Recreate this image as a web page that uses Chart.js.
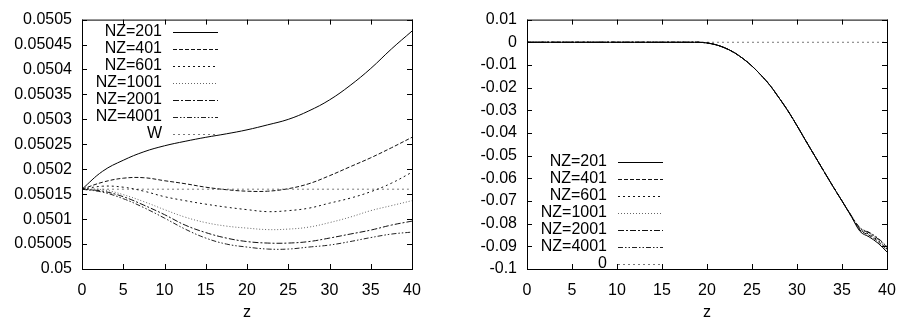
<!DOCTYPE html>
<html>
<head>
<meta charset="utf-8">
<script src="https://cdn.jsdelivr.net/npm/chart.js@4/dist/chart.umd.min.js"></script>
<style>
  html, body { margin: 0; padding: 0; background: #fff; }
  #wrap { position: relative; width: 901px; height: 322px; }
  .panel { position: absolute; top: 0; height: 322px; }
  #p1 { left: 0; width: 450px; }
  #p2 { left: 450px; width: 451px; }
</style>
</head>
<body>
<div id="wrap">
  <div class="panel" id="p1"><canvas id="left"></canvas></div>
  <div class="panel" id="p2"><canvas id="right"></canvas></div>
</div>
<script>
// left panel
var zLeft = [0, 2.5, 5, 7.5, 10, 12.5, 15, 17.5, 20, 22.5, 25, 27.5, 30, 32.5, 35, 37.5, 40];
var nz201L = [0.05016, 0.050196, 0.050218, 0.050235, 0.050247, 0.050256, 0.050264, 0.050271, 0.050279, 0.050289, 0.0503, 0.050317, 0.050339, 0.050368, 0.050402, 0.050441, 0.050477];
var nz401L = [0.05016, 0.050174, 0.050182, 0.050183, 0.050177, 0.050171, 0.050164, 0.050159, 0.050156, 0.050156, 0.050161, 0.050171, 0.050187, 0.050205, 0.050223, 0.050243, 0.050264];
var nz601L = [0.05016, 0.050166, 0.050164, 0.050156, 0.050145, 0.050137, 0.05013, 0.050124, 0.050119, 0.050115, 0.050117, 0.050122, 0.050132, 0.050142, 0.050155, 0.050172, 0.050194];
var nz1001L = [0.05016, 0.050159, 0.050149, 0.050135, 0.050119, 0.050104, 0.050093, 0.050086, 0.050082, 0.050079, 0.05008, 0.050084, 0.050093, 0.050104, 0.050117, 0.050127, 0.050137];
var nz2001L = [0.05016, 0.050156, 0.050145, 0.050128, 0.050109, 0.050088, 0.050073, 0.050062, 0.050055, 0.050052, 0.050052, 0.050055, 0.050062, 0.05007, 0.050078, 0.050088, 0.050096];
var nz4001L = [0.05016, 0.050154, 0.050141, 0.050123, 0.050102, 0.05008, 0.050062, 0.05005, 0.050044, 0.05004, 0.05004, 0.050044, 0.050048, 0.050055, 0.050063, 0.05007, 0.050074];
var wLine = [0.05016, 0.05016, 0.05016, 0.05016, 0.05016, 0.05016, 0.05016, 0.05016, 0.05016, 0.05016, 0.05016, 0.05016, 0.05016, 0.05016, 0.05016, 0.05016, 0.05016];

// right panel
var zRight = [0, 5, 10, 15, 18, 19, 20, 21, 22, 23, 24, 25, 26, 27, 28, 29, 30, 31, 32, 33, 34, 35, 36, 37, 38, 39, 40];
var nz201R = [0, 0, 0, 0, 0, 0, -0.0003, -0.0011, -0.0025, -0.0045, -0.0072, -0.0105, -0.0145, -0.019, -0.0245, -0.0303, -0.0368, -0.0436, -0.0503, -0.057, -0.0636, -0.07, -0.0766, -0.0834, -0.0858, -0.0886, -0.0925];
var nz401R = [0, 0, 0, 0, 0, 0, -0.0003, -0.0011, -0.0025, -0.0045, -0.0072, -0.0105, -0.0145, -0.019, -0.0245, -0.0303, -0.0368, -0.0436, -0.0503, -0.057, -0.0636, -0.07, -0.0765, -0.0828, -0.0851, -0.0879, -0.0917];
var nz601R = [0, 0, 0, 0, 0, 0, -0.0003, -0.0011, -0.0025, -0.0045, -0.0072, -0.0105, -0.0145, -0.019, -0.0245, -0.0303, -0.0368, -0.0436, -0.0503, -0.057, -0.0636, -0.07, -0.0764, -0.0825, -0.0847, -0.0874, -0.0912];
var nz1001R = [0, 0, 0, 0, 0, 0, -0.0003, -0.0011, -0.0025, -0.0045, -0.0072, -0.0105, -0.0145, -0.019, -0.0245, -0.0303, -0.0368, -0.0436, -0.0503, -0.057, -0.0636, -0.07, -0.0763, -0.0822, -0.0843, -0.087, -0.0908];
var nz2001R = [0, 0, 0, 0, 0, 0, -0.0003, -0.0011, -0.0025, -0.0045, -0.0072, -0.0105, -0.0145, -0.019, -0.0245, -0.0303, -0.0368, -0.0436, -0.0503, -0.057, -0.0636, -0.07, -0.0763, -0.082, -0.084, -0.0867, -0.0904];
var nz4001R = [0, 0, 0, 0, 0, 0, -0.0003, -0.0011, -0.0025, -0.0045, -0.0072, -0.0105, -0.0145, -0.019, -0.0245, -0.0303, -0.0368, -0.0436, -0.0503, -0.057, -0.0636, -0.07, -0.0762, -0.0818, -0.0838, -0.0864, -0.0901];
var zeroLine = [0, 0, 0, 0, 0, 0, 0, 0, 0, 0, 0, 0, 0, 0, 0, 0, 0, 0, 0, 0, 0, 0, 0, 0, 0, 0, 0];

var FONT = { family: '"Liberation Sans", Arial, sans-serif', size: 16 };

var styles = [
  { dash: [], color: '#000' },
  { dash: [4, 2], color: '#111' },
  { dash: [2, 3], color: '#111' },
  { dash: [1, 2], color: '#666' },
  { dash: [6, 2, 2, 2], color: '#111' },
  { dash: [5, 2, 1.5, 2, 1.5, 2], color: '#222' },
  { dash: [2, 3], color: '#777' }
];

function pairs(xs, ys) {
  return xs.map(function (x, i) { return { x: x, y: ys[i] }; });
}

function makeSets(xs, series, labels, monotone) {
  return series.map(function (ys, i) {
    var ds = {
      label: labels[i],
      data: pairs(xs, ys),
      borderColor: styles[i].color,
      borderDash: styles[i].dash,
      borderWidth: 1,
      pointRadius: 0,
      fill: false
    };
    if (monotone) ds.cubicInterpolationMode = 'monotone';
    else ds.tension = 0.4;
    return ds;
  });
}

// gnuplot-like frame with inward ticks on all sides, plus the key
var framePlugin = {
  id: 'frame',
  afterDatasetsDraw: function (chart) {
    var ctx = chart.ctx, a = chart.chartArea;
    var xs = chart.scales.x, ys = chart.scales.y, len = 5;
    ctx.save();
    ctx.strokeStyle = '#000';
    ctx.lineWidth = 1;
    ctx.setLineDash([]);
    ctx.strokeRect(a.left + 0.5, a.top + 0.5, a.right - a.left, a.bottom - a.top);
    ctx.beginPath();
    xs.ticks.forEach(function (t) {
      var px = Math.round(xs.getPixelForValue(t.value)) + 0.5;
      ctx.moveTo(px, a.bottom); ctx.lineTo(px, a.bottom - len);
      ctx.moveTo(px, a.top); ctx.lineTo(px, a.top + len);
    });
    ys.ticks.forEach(function (t) {
      var py = Math.round(ys.getPixelForValue(t.value)) + 0.5;
      ctx.moveTo(a.left, py); ctx.lineTo(a.left + len, py);
      ctx.moveTo(a.right, py); ctx.lineTo(a.right - len, py);
    });
    ctx.stroke();

    var top = chart.options.keyTop;
    ctx.font = FONT.size + 'px ' + FONT.family;
    ctx.fillStyle = '#000';
    ctx.textAlign = 'right';
    ctx.textBaseline = 'middle';
    chart.data.datasets.forEach(function (ds, i) {
      var y = a.top + top + i * 17;
      ctx.fillText(ds.label, a.left + 80, y);
      ctx.beginPath();
      ctx.strokeStyle = ds.borderColor;
      ctx.setLineDash(ds.borderDash);
      ctx.moveTo(a.left + 91, Math.round(y) + 0.5);
      ctx.lineTo(a.left + 136, Math.round(y) + 0.5);
      ctx.stroke();
    });
    ctx.restore();
  }
};

function makeChart(id, xs, series, labels, yMin, yMax, yStep, yWidth, padRight, keyTop, monotone) {
  return new Chart(document.getElementById(id), {
    type: 'line',
    data: { datasets: makeSets(xs, series, labels, monotone) },
    options: {
      responsive: true,
      maintainAspectRatio: false,
      animation: false,
      keyTop: keyTop,
      layout: { padding: { top: 13, right: padRight, left: 0, bottom: 0 } },
      plugins: { legend: { display: false }, tooltip: { enabled: false } },
      scales: {
        x: {
          type: 'linear', min: 0, max: 40,
          ticks: { stepSize: 5, color: '#000', font: FONT, padding: 4, maxRotation: 0 },
          grid: { display: false },
          border: { display: false },
          title: { display: true, text: 'z', color: '#000', font: FONT, padding: { top: 2, bottom: 0 } },
          afterFit: function (s) { s.height = 53; }
        },
        y: {
          min: yMin, max: yMax,
          ticks: {
            stepSize: yStep, color: '#000', font: FONT, padding: 10,
            callback: function (v) { return String(parseFloat(v.toFixed(6))); }
          },
          grid: { display: false, drawTicks: false },
          border: { display: false },
          afterFit: function (s) { s.width = yWidth; }
        }
      }
    },
    plugins: [framePlugin]
  });
}

makeChart('left', zLeft,
  [nz201L, nz401L, nz601L, nz1001L, nz2001L, nz4001L, wLine],
  ['NZ=201', 'NZ=401', 'NZ=601', 'NZ=1001', 'NZ=2001', 'NZ=4001', 'W'],
  0.05, 0.0505, 0.00005, 82, 38, 12, false);

makeChart('right', zRight,
  [nz201R, nz401R, nz601R, nz1001R, nz2001R, nz4001R, zeroLine],
  ['NZ=201', 'NZ=401', 'NZ=601', 'NZ=1001', 'NZ=2001', 'NZ=4001', '0'],
  -0.1, 0.01, 0.01, 77, 14, 142, true);
</script>
</body>
</html>
